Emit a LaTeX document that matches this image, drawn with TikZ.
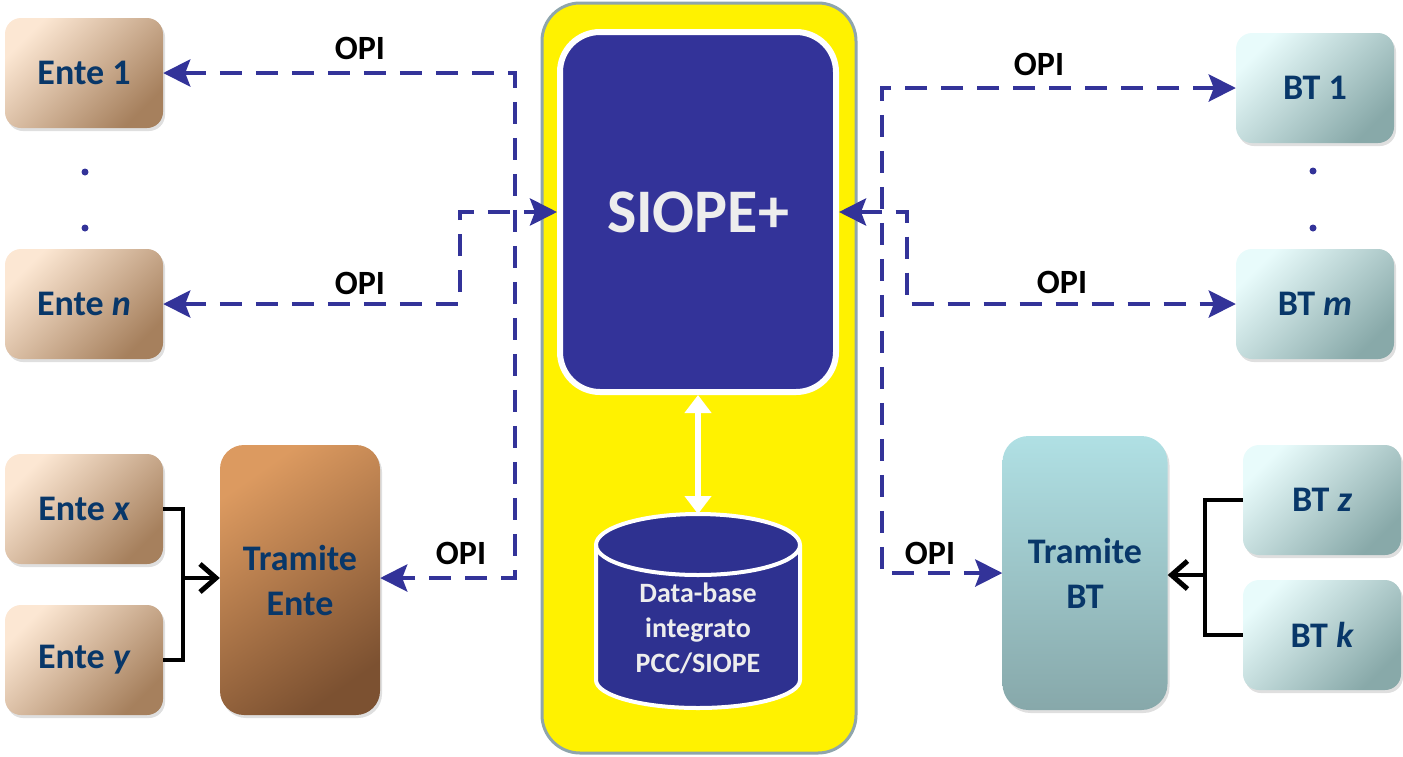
\documentclass[tikz,border=0pt]{standalone}
\usepackage{fontspec}
\setmainfont{Carlito}
\usetikzlibrary{arrows.meta,shadows}

\definecolor{siopeblue}{HTML}{333399}
\definecolor{dbblue}{HTML}{2E3190}
\definecolor{labelnavy}{HTML}{083769}
\definecolor{frameedge}{HTML}{8FA5AC}
\definecolor{enteA}{HTML}{FCE7D3}
\definecolor{enteB}{HTML}{A6805D}
\definecolor{tramA}{HTML}{DC9A60}
\definecolor{tramB}{HTML}{7C5131}
\definecolor{btA}{HTML}{E8FBFB}
\definecolor{btB}{HTML}{88A9A9}
\definecolor{tbtA}{HTML}{B0E0E4}
\definecolor{tbtB}{HTML}{87A8AA}

\tikzset{
  box/.style={rounded corners=16pt, minimum width=158pt, minimum height=110pt,
    text=labelnavy, align=center, font=\fontsize{36}{45}\selectfont\bfseries,
    drop shadow={opacity=0.25, shadow xshift=2pt, shadow yshift=-3pt}},
  ente/.style={box, top color=enteA, bottom color=enteB, shading angle=45},
  bt/.style={box, top color=btA, bottom color=btB, shading angle=45},
  opi/.style={draw=siopeblue, line width=4.5pt, dash pattern=on 22pt off 14pt,
    >={Stealth[length=27pt, width=27pt, inset=5pt]}},
  feed/.style={draw=black, line width=4pt,
    >={Straight Barb[length=16pt, width=28pt, line width=5pt]}},
  opilabel/.style={font=\fontsize{34}{36}\selectfont\bfseries, text=black},
  dotmark/.style={circle, fill=siopeblue, inner sep=0pt, minimum size=7pt}
}

\begin{document}
\begin{tikzpicture}[x=1pt, y=-1pt]
  \useasboundingbox (0,0) rectangle (1403,756);

  % central frame
  \node[draw=frameedge, line width=3pt, fill=yellow, rounded corners=38pt,
    minimum width=314pt, minimum height=750pt] (core) at (699,378) {};
  \node[draw=white, line width=6pt, fill=siopeblue, rounded corners=40pt,
    minimum width=276pt, minimum height=360pt, text=white!93!black,
    font=\fontsize{62}{62}\selectfont\bfseries] (siope) at (698,212) {SIOPE+};

  % data-base cylinder
  \path[fill=dbblue, draw=white, line width=4pt]
    (596,545) -- (596,680) arc[start angle=180, end angle=360, x radius=102pt, y radius=28pt]
    -- (800,545) arc[start angle=0, end angle=180, x radius=102pt, y radius=31pt] -- cycle;
  \draw[white, line width=4pt]
    (596,545) arc[start angle=180, end angle=360, x radius=102pt, y radius=30pt];
  \coordinate (dbtop) at (698,514);
  \node[text=white!93!black, align=center, font=\fontsize{28}{35}\selectfont\bfseries]
    (db) at (698,628) {Data-base\\integrato\\PCC/SIOPE};
  \draw[white, line width=6pt, {Triangle[length=18pt, width=26pt]}-{Triangle[length=18pt, width=26pt]}]
    (siope.south) -- (dbtop);

  % enti
  \node[ente] (ente1) at (84,73) {Ente 1};
  \node[ente] (enten) at (84,304) {Ente {\itshape n}};
  \node[ente] (entex) at (84,509) {Ente {\itshape x}};
  \node[ente] (entey) at (84,660) {Ente {\itshape y}};
  \node[box, minimum width=160pt, minimum height=270pt, rounded corners=24pt,
    top color=tramA, bottom color=tramB, shading angle=35] (tramente) at (300,580) {Tramite\\Ente};
  \node[dotmark] (ldot1) at (85,172) {};
  \node[dotmark] (ldot2) at (85,228) {};

  % banche tesoriere
  \node[bt] (bt1) at (1315,88) {BT 1};
  \node[bt] (btm) at (1315,304) {BT {\itshape m}};
  \node[bt] (btz) at (1322,500) {BT {\itshape z}};
  \node[bt] (btk) at (1322,635) {BT {\itshape k}};
  \node[box, minimum width=165pt, minimum height=274pt, rounded corners=26pt,
    top color=tbtA, bottom color=tbtB] (trambt) at (1085,573) {Tramite\\BT};
  \node[dotmark] (rdot1) at (1313,171) {};
  \node[dotmark] (rdot2) at (1313,228) {};

  % OPI flows
  \coordinate (lbus) at (515,578);
  \coordinate (lmid) at (460,212);
  \coordinate (rbus) at (882,573);
  \coordinate (rmid) at (907,212);
  \draw[opi,<->] (ente1.east) -| (lbus) -- (tramente.east |- lbus);
  \draw[opi,<->] (enten.east) -| (lmid) -- (siope.west);
  \draw[opi,<->] (bt1.west) -| (rbus) -- (trambt.west);
  \draw[opi,<->] (siope.east) -- (rmid) |- (btm.west);

  \node[opilabel] (opi1) at (360,48) {OPI};
  \node[opilabel] (opi2) at (360,283) {OPI};
  \node[opilabel] (opi3) at (461,553) {OPI};
  \node[opilabel] (opi4) at (1039,64) {OPI};
  \node[opilabel] (opi5) at (1062,282) {OPI};
  \node[opilabel] (opi6) at (930,553) {OPI};

  % collectors
  \coordinate (jl) at (183,578);
  \coordinate (jr) at (1205,575);
  \draw[feed] (entex.east) -| (jl) |- (entey.east);
  \draw[feed,->] (jl) -- (tramente.west |- jl);
  \draw[feed] (btz.west) -| (jr) |- (btk.west);
  \draw[feed,->] (jr) -- (trambt.east |- jr);
\end{tikzpicture}
\end{document}
